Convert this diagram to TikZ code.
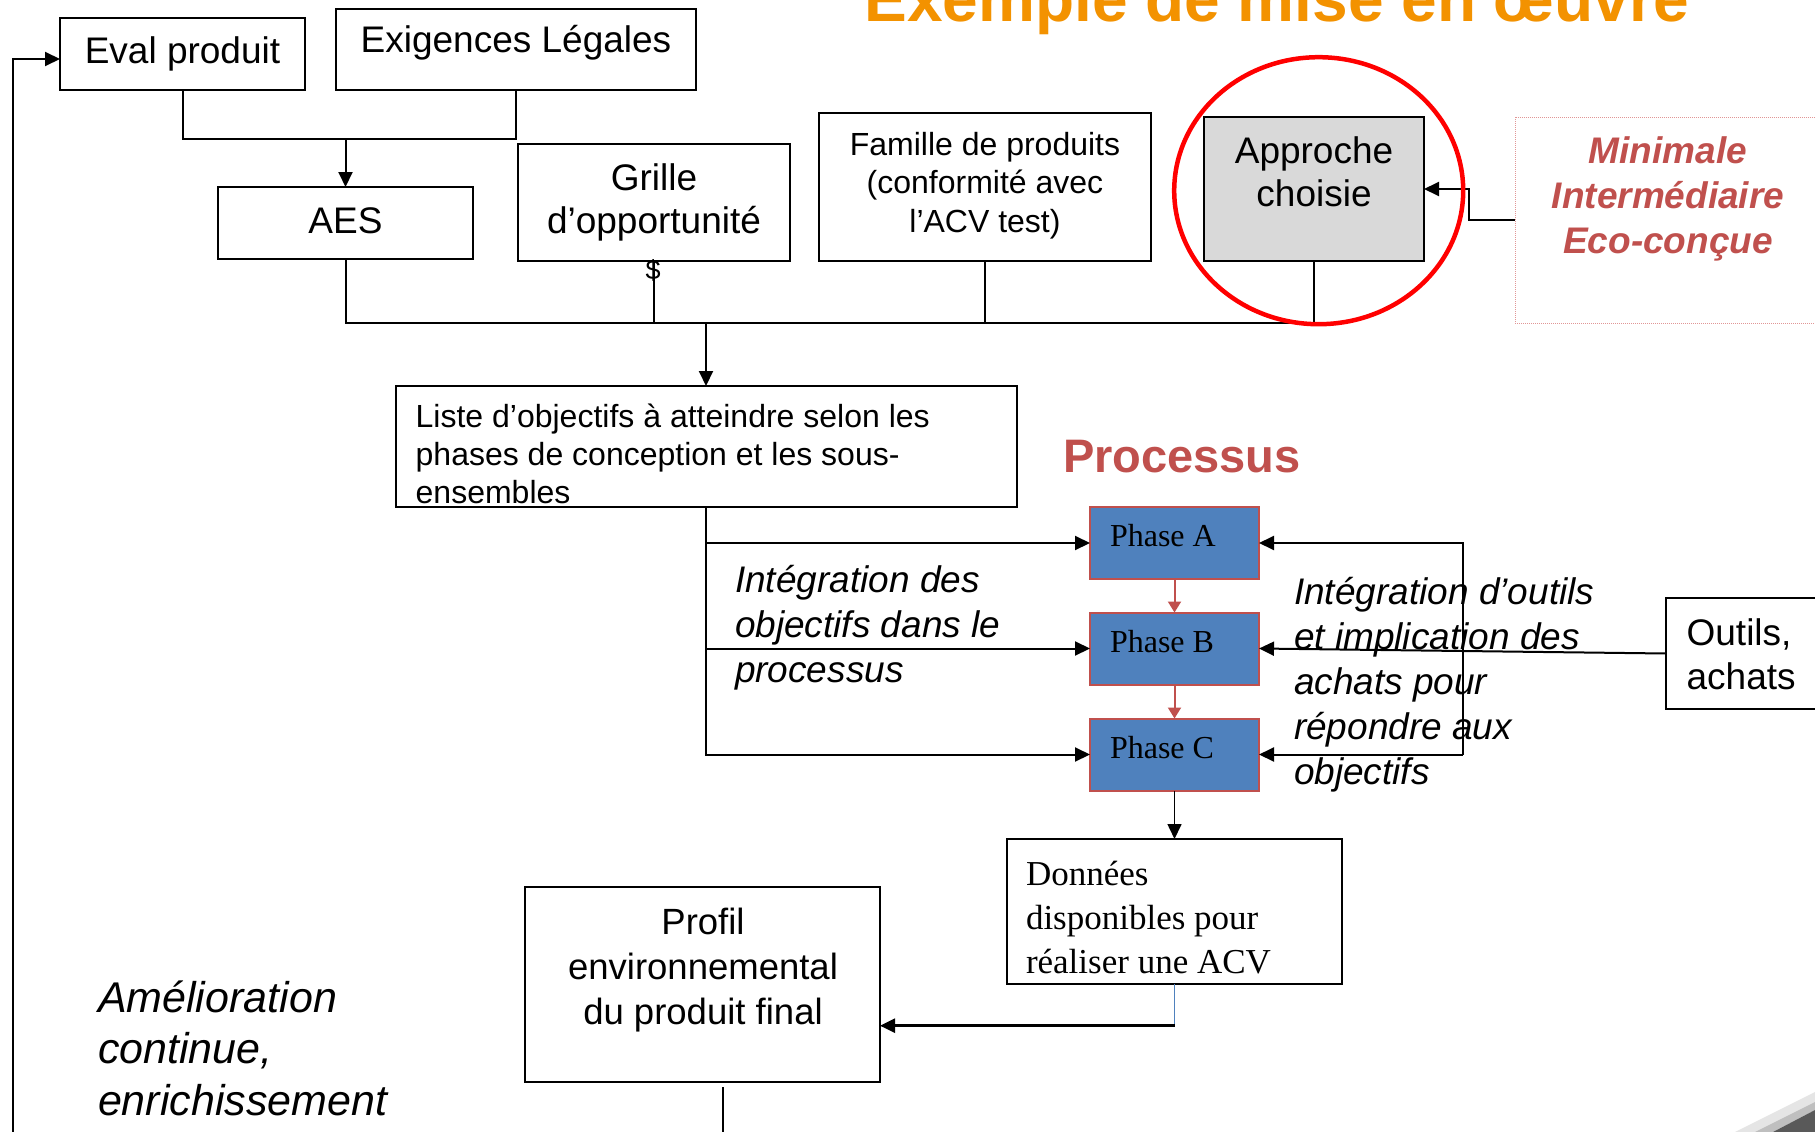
\documentclass[tikz,border=0pt]{standalone}
\usepackage{fontspec}
\setmainfont{Liberation Sans}
\newfontfamily\timesfont{Liberation Serif}
\usetikzlibrary{arrows.meta,calc,shapes.geometric}
\definecolor{phaseblue}{HTML}{4F81BD}
\definecolor{accentred}{HTML}{C0504D}
\definecolor{titleorange}{RGB}{243,146,0}
\definecolor{approchegray}{HTML}{D9D9D9}
\definecolor{dotred}{RGB}{225,150,150}
\newcommand\mlc[1]{\begin{tabular}[t]{@{}c@{}}#1\end{tabular}}
\newcommand\mll[1]{\begin{tabular}[t]{@{}l@{}}#1\end{tabular}}
\newcommand\fsz[2]{\fontsize{#1}{#2}\selectfont}
\begin{document}
\begin{tikzpicture}[x=1pt,y=-1pt,
  plainbox/.style={draw=black,line width=2pt,fill=white,inner sep=0pt,outer sep=0pt},
  phasebox/.style={draw=accentred,line width=2pt,fill=phaseblue,inner sep=0pt,outer sep=0pt},
  txt/.style={inner sep=0pt,outer sep=0pt,anchor=base},
  txtl/.style={inner sep=0pt,outer sep=0pt,anchor=base west},
  conn/.style={line width=2pt,draw=black},
  arr/.style={conn,-{Triangle[length=15pt,width=14pt]}},
  redarr/.style={line width=2pt,draw=accentred,-{Triangle[length=11pt,width=13pt]}},
]
\useasboundingbox (0,0) rectangle (1815,1132);
\fill[white] (0,0) rectangle (1815,1132);

% title
\node[txt, font=\fsz{64}{70}\bfseries, text=titleorange] (title) at (1277,21.7) {Exemple de mise en œuvre};

% boxes
\node[plainbox, minimum width=245pt, minimum height=72pt] (eval) at (182.5,54) {};
\node[plainbox, minimum width=360pt, minimum height=81pt] (exig) at (516,49.5) {};
\node[plainbox, minimum width=255pt, minimum height=72pt] (aes) at (345.5,223) {};
\node[plainbox, minimum width=272pt, minimum height=117pt] (grille) at (654,202.5) {};
\node[plainbox, minimum width=332pt, minimum height=148pt] (famille) at (985,187) {};
\node[plainbox, fill=approchegray, minimum width=220pt, minimum height=144pt] (approche) at (1314,189) {};
\node[draw=dotred, densely dotted, line width=1pt, inner sep=0pt, outer sep=0pt, minimum width=315pt, minimum height=206pt] (options) at (1672.5,220) {};
\node[plainbox, minimum width=621pt, minimum height=121pt] (liste) at (706,446.5) {};
\node[phasebox, minimum width=169pt, minimum height=72pt] (phaseA) at (1174.5,543) {};
\node[phasebox, minimum width=169pt, minimum height=72pt] (phaseB) at (1174.5,648.5) {};
\node[phasebox, minimum width=169pt, minimum height=72pt] (phaseC) at (1174.5,754.5) {};
\node[plainbox, minimum width=164pt, minimum height=111pt] (outils) at (1748,653.5) {};
\node[plainbox, minimum width=335pt, minimum height=145pt] (donnees) at (1174.5,911.5) {};
\node[plainbox, minimum width=355pt, minimum height=195pt] (profil) at (702.5,984.5) {};

% connectors top
\coordinate (tm) at (0,139);
\draw[conn] (eval.south) -- (eval.south |- tm) -- (exig.south |- tm) -- (exig.south);
\draw[arr] (aes.north |- tm) -- (aes.north);
\coordinate (bus) at (0,322.5);
\draw[conn] (aes.south) -- (aes.south |- bus) -- (approche.south |- bus) -- (approche.south);
\draw[conn] (famille.south) -- (famille.south |- bus);
\draw[line width=1.2pt] (grille.south) -- (grille.south |- bus);
\draw[arr] (liste.north |- bus) -- (liste.north);
\draw[arr] (options.west) -- ++(-46,0) |- (approche.east);

% ellipse highlight
\node[ellipse, draw=red, line width=4.5pt, inner sep=0pt, minimum width=289pt, minimum height=267pt] (focus) at (1318.7,190.7) {};

% process connectors
\draw[arr] (liste.south) |- (phaseA.west);
\draw[arr] (liste.south) |- (phaseB.west);
\draw[arr] (liste.south) |- (phaseC.west);
\draw[redarr] (phaseA.south) -- (phaseB.north);
\draw[redarr] (phaseB.south) -- (phaseC.north);
\coordinate (fbA) at (1462.7,543);
\coordinate (fbC) at (1462.7,754.5);
\draw[arr] (fbC) -- (fbA) -- (phaseA.east);
\draw[arr] (fbC) -- (phaseC.east);
\draw[arr] (outils.west) -- (phaseB.east);
\draw[arr, line width=1.6pt] (phaseC.south) -- (donnees.north);
\coordinate (dp) at (1174.5,1025.7);
\draw[phaseblue, line width=1.2pt] (donnees.south) -- (dp);
\draw[arr, line width=2.5pt] (dp) -- (dp -| profil.east);
\coordinate (pbot) at (723,1132);
\draw[line width=1.2pt] ($(profil.south -| pbot)+(0,5)$) -- (pbot);
\coordinate (loopS) at (12.6,1132);
\draw[arr] (loopS) |- ($(eval.west)+(0,5)$);

% texts
\node[txt, font=\fsz{37}{45}] (evalt) at (182.5,63.3) {Eval produit};
\node[txt, font=\fsz{37}{45}] (exigt) at (516,53) {Exigences Légales};
\node[txt, font=\fsz{37}{45}] (aest) at (345.5,233) {AES};
\node[txt, font=\fsz{37}{43}] (grillet) at (654,190) {\mlc{Grille\\d’opportunité}};
\node[txt, font=\fsz{27}{30}] (dollar) at (653,279) {\$};
\node[txt, font=\fsz{32}{38.5}] (famillet) at (985,155) {\mlc{Famille de produits\\(conformité avec\\l’ACV test)}};
\node[txt, font=\fsz{37}{43}] (approchet) at (1314,163) {\mlc{Approche\\choisie}};
\node[txt, font=\fsz{37}{45}\bfseries\itshape, text=accentred] (optionst) at (1668,163) {\mlc{Minimale\\Intermédiaire\\Eco-conçue}};
\node[txtl, font=\fsz{32}{38}] (listet) at (415.7,427) {\mll{Liste d’objectifs à atteindre selon les\\phases de conception et les sous-\\ensembles}};
\node[txtl, font=\fsz{47}{52}\bfseries, text=accentred] (processus) at (1063,472) {Processus};
\node[txtl, font=\fsz{37}{45}\itshape] (integA) at (735,592.5) {\mll{Intégration des\\objectifs dans le\\processus}};
\node[txtl, font=\fsz{37}{45}\itshape] (integB) at (1294,604) {\mll{Intégration d’outils\\et implication des\\achats pour\\répondre aux\\objectifs}};
\node[txtl, font=\fsz{37}{44}] (outilst) at (1686.6,645) {\mll{Outils,\\achats}};
\node[txtl, font=\timesfont\fsz{32}{36}] (phaseAt) at (1110,546.7) {Phase A};
\node[txtl, font=\timesfont\fsz{32}{36}] (phaseBt) at (1110,652.7) {Phase B};
\node[txtl, font=\timesfont\fsz{32}{36}] (phaseCt) at (1110,758.3) {Phase C};
\node[txtl, font=\timesfont\fsz{35}{44}] (donneest) at (1026,885) {\mll{Données\\disponibles pour\\réaliser une ACV}};
\node[txt, font=\fsz{36.5}{45}] (profilt) at (703,934) {\mlc{Profil\\environnemental\\du produit final}};
\node[txtl, font=\fsz{43}{51.5}\itshape] (amelio) at (98,1012) {\mll{Amélioration\\continue,\\enrichissement}};

% page corner
\fill[black!10] (1735,1132) -- (1815,1092) -- (1815,1110) -- (1773,1132) -- cycle;
\fill[black!25] (1755,1132) -- (1815,1102) -- (1815,1110) -- (1773,1132) -- cycle;
\fill[black!65] (1773,1132) -- (1815,1110) -- (1815,1132) -- cycle;
\end{tikzpicture}
\end{document}
